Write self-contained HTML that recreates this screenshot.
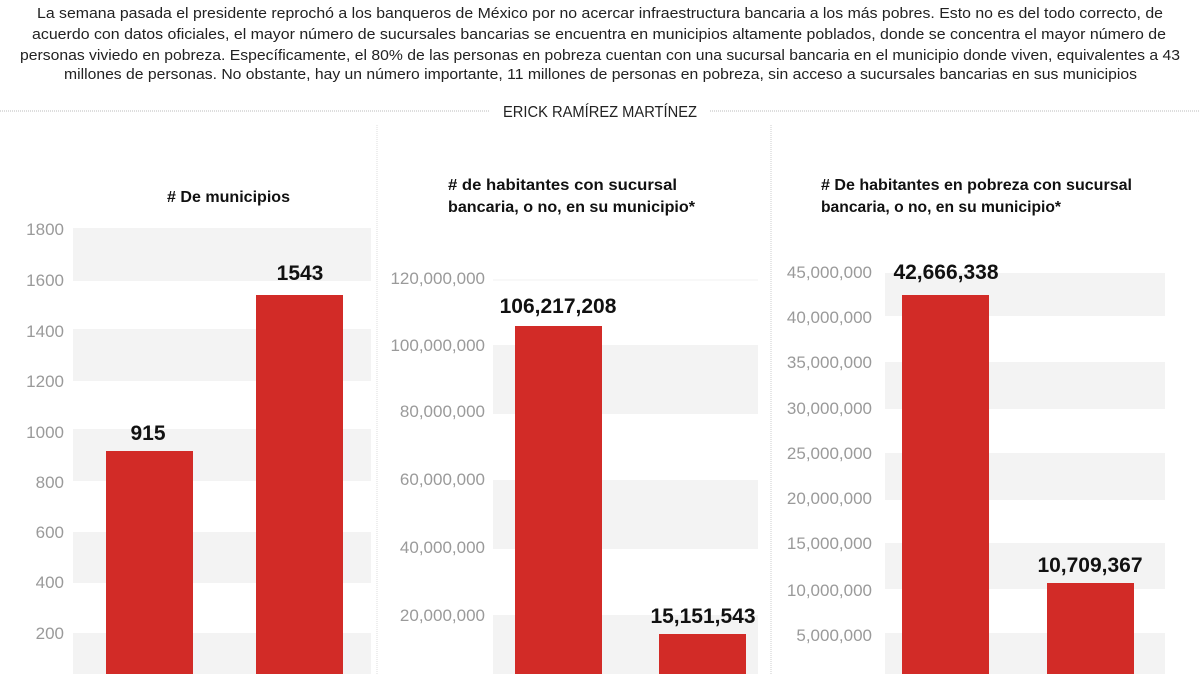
<!DOCTYPE html>
<html><head><meta charset="utf-8"><style>
html,body{margin:0;padding:0;background:#fff;}
svg{display:block;font-family:"Liberation Sans",sans-serif;}
.h{font-size:15px;fill:#222;}
.t{font-size:17px;fill:#9a9a9a;text-anchor:end;}
.ti{font-size:16px;font-weight:bold;fill:#111;}
.v{font-size:21px;font-weight:bold;fill:#111;text-anchor:middle;}
</style></head><body>
<svg width="1200" height="674" viewBox="0 0 1200 674">
<rect width="1200" height="674" fill="#fff"/>
<text class="h" x="37" y="18" textLength="1126" lengthAdjust="spacingAndGlyphs">La semana pasada el presidente reprochó a los banqueros de México por no acercar infraestructura bancaria a los más pobres. Esto no es del todo correcto, de</text>
<text class="h" x="32" y="39" textLength="1134" lengthAdjust="spacingAndGlyphs">acuerdo con datos oficiales, el mayor número de sucursales bancarias se encuentra en municipios altamente poblados, donde se concentra el mayor número de</text>
<text class="h" x="20" y="60" textLength="1160" lengthAdjust="spacingAndGlyphs">personas viviedo en pobreza. Específicamente, el 80% de las personas en pobreza cuentan con una sucursal bancaria en el municipio donde viven, equivalentes a 43</text>
<text class="h" x="64" y="79" textLength="1073" lengthAdjust="spacingAndGlyphs">millones de personas. No obstante, hay un número importante, 11 millones de personas en pobreza, sin acceso a sucursales bancarias en sus municipios</text>
<line x1="0" y1="111" x2="490" y2="111" stroke="#bbb" stroke-dasharray="1,1"/>
<line x1="710" y1="111" x2="1200" y2="111" stroke="#bbb" stroke-dasharray="1,1"/>
<text class="h" x="503" y="117" textLength="194" lengthAdjust="spacingAndGlyphs" style="font-size:16px">ERICK RAMÍREZ MARTÍNEZ</text>
<line x1="377" y1="125" x2="377" y2="674" stroke="#ddd" stroke-dasharray="1,1"/>
<line x1="771" y1="125" x2="771" y2="674" stroke="#ccc" stroke-dasharray="1,1"/>

<!-- Panel 1 -->
<text class="ti" x="167" y="202" textLength="123" lengthAdjust="spacingAndGlyphs"># De municipios</text>
<g fill="#f3f3f3">
<rect x="73" y="228" width="298" height="53"/>
<rect x="73" y="329" width="298" height="52"/>
<rect x="73" y="429" width="298" height="52"/>
<rect x="73" y="532" width="298" height="51"/>
<rect x="73" y="633" width="298" height="41"/>
</g>
<g class="t">
<text x="64" y="235">1800</text><text x="64" y="286">1600</text><text x="64" y="337">1400</text>
<text x="64" y="387">1200</text><text x="64" y="438">1000</text><text x="64" y="488">800</text>
<text x="64" y="538">600</text><text x="64" y="588">400</text><text x="64" y="639">200</text>
</g>
<rect x="106" y="451" width="87" height="223" fill="#d22b27"/>
<rect x="256" y="295" width="87" height="379" fill="#d22b27"/>
<text class="v" x="148" y="440">915</text>
<text class="v" x="300" y="280">1543</text>

<!-- Panel 2 -->
<text class="ti" x="448" y="190" textLength="229" lengthAdjust="spacingAndGlyphs"># de habitantes con sucursal</text>
<text class="ti" x="448" y="212" textLength="247" lengthAdjust="spacingAndGlyphs">bancaria, o no, en su municipio*</text>
<line x1="493" y1="280" x2="758" y2="280" stroke="#f0f0f0"/>
<g fill="#f3f3f3">
<rect x="493" y="345" width="265" height="69"/>
<rect x="493" y="480" width="265" height="69"/>
<rect x="493" y="615" width="265" height="59"/>
</g>
<g class="t">
<text x="485" y="284">120,000,000</text><text x="485" y="351">100,000,000</text>
<text x="485" y="417">80,000,000</text><text x="485" y="485">60,000,000</text>
<text x="485" y="553">40,000,000</text><text x="485" y="621">20,000,000</text>
</g>
<rect x="515" y="326" width="87" height="348" fill="#d22b27"/>
<rect x="659" y="634" width="87" height="40" fill="#d22b27"/>
<text class="v" x="558" y="313">106,217,208</text>
<text class="v" x="703" y="623">15,151,543</text>

<!-- Panel 3 -->
<text class="ti" x="821" y="190" textLength="311" lengthAdjust="spacingAndGlyphs"># De habitantes en pobreza con sucursal</text>
<text class="ti" x="821" y="212" textLength="240" lengthAdjust="spacingAndGlyphs">bancaria, o no, en su municipio*</text>
<g fill="#f3f3f3">
<rect x="885" y="273" width="280" height="43"/>
<rect x="885" y="362" width="280" height="47"/>
<rect x="885" y="453" width="280" height="47"/>
<rect x="885" y="543" width="280" height="46"/>
<rect x="885" y="633" width="280" height="41"/>
</g>
<g class="t">
<text x="872" y="278">45,000,000</text><text x="872" y="323">40,000,000</text>
<text x="872" y="368">35,000,000</text><text x="872" y="414">30,000,000</text>
<text x="872" y="459">25,000,000</text><text x="872" y="504">20,000,000</text>
<text x="872" y="549">15,000,000</text><text x="872" y="596">10,000,000</text>
<text x="872" y="641">5,000,000</text>
</g>
<rect x="902" y="295" width="87" height="379" fill="#d22b27"/>
<rect x="1047" y="583" width="87" height="91" fill="#d22b27"/>
<text class="v" x="946" y="279">42,666,338</text>
<text class="v" x="1090" y="572">10,709,367</text>
</svg>
</body></html>
